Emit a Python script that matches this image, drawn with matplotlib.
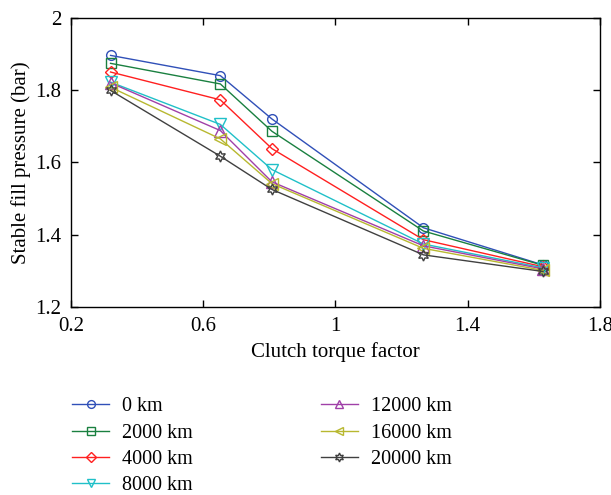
import matplotlib
matplotlib.use("Agg")
from matplotlib import pyplot as plt

plt.rcParams["font.family"] = ["Liberation Serif", "DejaVu Serif"]

torque = [0.32, 0.652, 0.808, 1.266, 1.628]

labels = ["0 km", "2000 km", "4000 km", "8000 km", "12000 km", "16000 km", "20000 km"]
p_0 = [1.896, 1.840, 1.720, 1.419, 1.316]
p_2000 = [1.874, 1.817, 1.686, 1.410, 1.315]
p_4000 = [1.850, 1.773, 1.638, 1.386, 1.311]
p_8000 = [1.822, 1.705, 1.580, 1.374, 1.308]
p_12000 = [1.820, 1.688, 1.546, 1.369, 1.305]
p_16000 = [1.808, 1.665, 1.541, 1.362, 1.301]
p_20000 = [1.799, 1.617, 1.525, 1.344, 1.298]
series = [p_0, p_2000, p_4000, p_8000, p_12000, p_16000, p_20000]

colors = ["#3050b8", "#1a8040", "#ff2020", "#20c0c8", "#a040a8", "#b8b830", "#404040"]
markers = ["o", "s", "D", "v", "^", "<", (6, 1, 0)]
sizes = [7, 7, 6, 8, 8, 8, 8]

fig = plt.figure(figsize=(6.11, 4.95), dpi=100)
ax = fig.add_axes([0.116, 0.380, 0.866, 0.584])

for ys, lab, c, m, ms in zip(series, labels, colors, markers, sizes):
    ax.plot(torque, ys, color=c, marker=m, markersize=ms, markerfacecolor="none",
            markeredgecolor=c, markeredgewidth=1.0, linewidth=1.0, label=lab)

ax.set_xlim(0.2, 1.8)
ax.set_ylim(1.2, 2.0)
ax.set_xticks([0.2, 0.6, 1.0, 1.4, 1.8])
ax.set_xticklabels(["0.2", "0.6", "1", "1.4", "1.8"])
ax.set_yticks([1.2, 1.4, 1.6, 1.8, 2.0])
ax.set_yticklabels(["1.2", "1.4", "1.6", "1.8", "2"])
ax.tick_params(direction="in", top=True, right=True, length=5, width=1,
               labelsize=15, pad=7)
for s in ax.spines.values():
    s.set_linewidth(1.0)

ax.set_xlabel("Clutch torque factor", fontsize=15, labelpad=5)
ax.set_ylabel("Stable fill pressure (bar)", fontsize=15, labelpad=3)

fig.legend(loc="upper left", bbox_to_anchor=(0.102, 0.218), ncol=2, frameon=False,
           fontsize=14.5, handlelength=1.8, handletextpad=0.65, columnspacing=6.4,
           labelspacing=0.36, borderpad=0, markerscale=0.8)

fig.savefig("out.png", dpi=100)
